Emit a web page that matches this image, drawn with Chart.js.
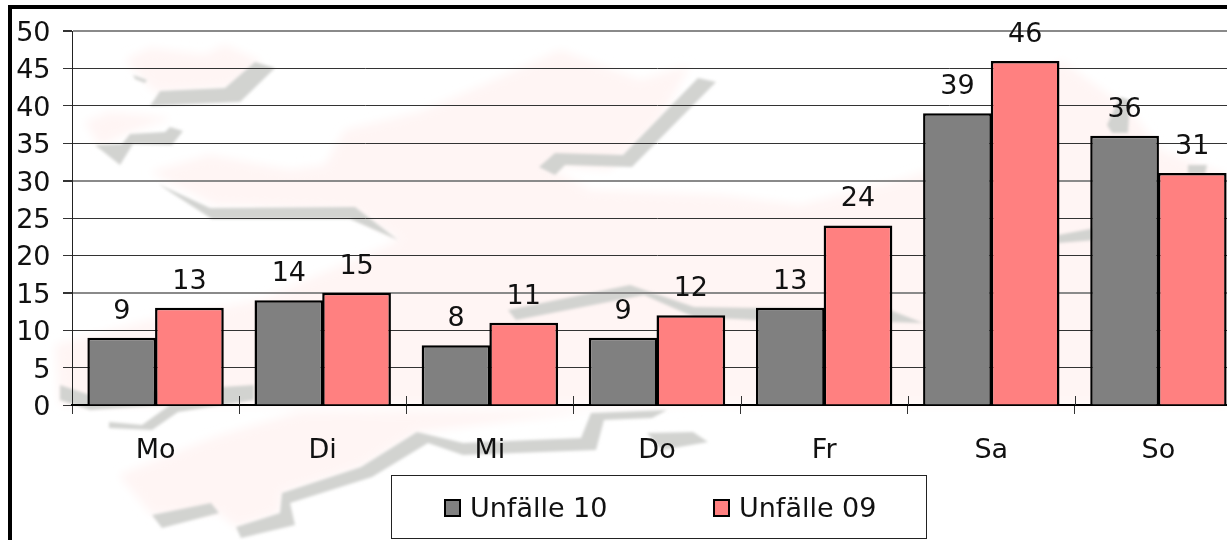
<!DOCTYPE html>
<html>
<head>
<meta charset="utf-8">
<title>Unfälle</title>
<script src="https://cdn.jsdelivr.net/npm/chart.js@4"></script>
<style>
html,body{margin:0;padding:0;width:1227px;height:540px;overflow:hidden;background:#fff}
#wm{position:absolute;left:0;top:0}
#frame{position:absolute;left:8px;top:5px;width:1300px;height:600px;border-left:4px solid #000;border-top:4px solid #000}
#wrap{position:absolute;left:0;top:0;width:1227px;height:540px;overflow:hidden}
canvas{position:absolute;left:0;top:0}
</style>
</head>
<body>
<div id="wrap">
<svg id="wm" width="1227" height="540" viewBox="0 0 1227 540">
  <defs>
    <filter id="b1" x="-5%" y="-5%" width="110%" height="110%"><feGaussianBlur stdDeviation="5"/></filter>
    <filter id="b2" x="-5%" y="-5%" width="110%" height="110%"><feGaussianBlur stdDeviation="1.8"/></filter>
  </defs>
  <g fill="#fff5f4" filter="url(#b1)">
    <polygon points="125,60 150,48 205,55 225,45 262,62 228,88 155,92"/>
    <polygon points="85,122 110,112 172,118 130,132 100,146"/>
    <polygon points="150,172 210,155 290,170 325,165 345,130 420,112 490,82 560,50 640,80 690,65 660,120 610,170 545,165 590,190 720,195 800,205 900,180 960,160 1000,140 1060,60 1130,110 1160,150 1227,175 1227,405 60,405 55,345 150,320 260,300 400,240 350,210 215,205"/>
    <polygon points="119,475 215,437 300,412 700,410 590,412 417,432 361,467 282,493 280,513 236,527 219,513 152,515"/>
  </g>
  <g fill="#d2d3d0" filter="url(#b2)">
    <polygon points="150,106 160,91 225,88 255,62 275,68 240,102"/>
    <polygon points="133,75 147,80 145,83 135,79"/>
    <polygon points="95,145 122,144 130,134 165,132 170,127 183,131 172,145 133,144 120,165"/>
    <polygon points="158,184 210,208 355,207 398,240 350,219 212,219"/>
    <polygon points="698,78 716,82 632,167 565,165 555,175 539,167 555,153 623,155"/>
    <polygon points="508,310 630,285 694,307 758,308 890,310 923,323 890,322 755,320 694,317 644,295 516,320"/>
    <polygon points="1058,235 1095,228 1095,240 1058,243"/>
    <polygon points="1107,125 1120,97 1130,100 1128,133 1112,133"/>
    <polygon points="1188,165 1207,165 1205,174 1188,174"/>
    <polygon points="60,385 90,395 254,385 254,400 178,412 152,430 109,428 109,422 142,425 170,405 90,410 60,400"/>
    <polygon points="152,515 211,503 219,513 162,528"/>
    <polygon points="236,527 280,513 282,493 361,467 417,432 463,443 581,438 591,413 667,410 652,418 604,420 596,450 463,455 428,443 372,477 290,503 295,525 241,538"/>
    <polygon points="647,433 693,432 708,442 662,450"/>
  </g>
</svg>
<div id="frame"></div>
<canvas id="c" width="1260" height="540"></canvas>
</div>
<script>
const categories = ["Mo","Di","Mi","Do","Fr","Sa","So"];
const seriesNames = ["Unfälle 10","Unfälle 09"];
const unfaelle10 = [9,14,8,9,13,39,36];
const unfaelle09 = [13,15,11,12,24,46,31];
const seriesColors = ["#808080","#ff8080"];
const yTicks = [0,5,10,15,20,25,30,35,40,45,50];
const softLines = [50,30,15];
const FONT = '"DejaVu Sans"';
const SIZE = 27;

const overlay = {
  id:'overlay',
  afterDraw(chart){
    const ctx = chart.ctx, x = chart.scales.x, y = chart.scales.y;
    ctx.save();
    ctx.strokeStyle = '#333'; ctx.lineWidth = 1;
    const top = chart.chartArea.bottom;
    for(let i=1;i<=categories.length;i++){
      const px = Math.round(x.left + i*(x.width/categories.length))+0.5;
      ctx.beginPath(); ctx.moveTo(px,top-9); ctx.lineTo(px,top); ctx.stroke();
    }
    ctx.font = SIZE+'px '+FONT; ctx.fillStyle='#111';
    ctx.textAlign='right'; ctx.textBaseline='middle';
    yTicks.forEach(v=>ctx.fillText(String(v), 50.5, y.getPixelForValue(v)+3));
    ctx.textAlign='center';
    chart.data.datasets.forEach((ds,di)=>{
      chart.getDatasetMeta(di).data.forEach((bar,i)=>{
        ctx.fillText(String(ds.data[i]), bar.x, bar.y-26);
      });
    });
    const lx=391.5, ly=475.5, lw=535, lh=63;
    ctx.fillStyle='#fff'; ctx.fillRect(lx,ly,lw,lh);
    ctx.strokeStyle='#222'; ctx.lineWidth=1; ctx.strokeRect(lx,ly,lw,lh);
    const sx=[444,713];
    ctx.textAlign='left';
    chart.data.datasets.forEach((ds,di)=>{
      ctx.fillStyle=ds.backgroundColor;
      ctx.fillRect(sx[di]+1,500,15,16);
      ctx.strokeStyle='#000'; ctx.lineWidth=2;
      ctx.strokeRect(sx[di]+1,500,15,16);
      ctx.fillStyle='#111';
      ctx.fillText(ds.label, sx[di]+26, 510);
    });
    ctx.restore();
  }
};

new Chart(document.getElementById('c'),{
  type:'bar',
  data:{labels:categories,datasets:[
    {label:seriesNames[0],data:unfaelle10,backgroundColor:seriesColors[0],borderColor:'#000',borderWidth:2.5},
    {label:seriesNames[1],data:unfaelle09,backgroundColor:seriesColors[1],borderColor:'#000',borderWidth:2.5}
  ]},
  plugins:[overlay],
  options:{
    responsive:false,animation:false,
    layout:{padding:{top:31,right:18,left:0,bottom:0}},
    datasets:{bar:{categoryPercentage:0.81,barPercentage:1.015}},
    plugins:{legend:{display:false},tooltip:{enabled:false},title:{display:false}},
    scales:{
      y:{min:0,max:50,
        ticks:{display:false,stepSize:5},
        grid:{
          color:c=>softLines.includes(c.tick&&c.tick.value)?'#8a8a8a':'#333',
          lineWidth:c=>softLines.includes(c.tick&&c.tick.value)?2:1,
          tickColor:'#333',tickLength:9,drawTicks:true},
        border:{color:'#222',width:1},
        afterFit(s){s.width=72;}
      },
      x:{
        offset:true,
        ticks:{color:'#111',font:{family:FONT,size:SIZE},padding:21,maxRotation:0},
        grid:{display:true,drawOnChartArea:false,offset:true,color:'#333',tickLength:9},
        border:{color:'#000',width:2},
        afterFit(s){s.height=135;}
      }
    }
  }
});
</script>
</body>
</html>
